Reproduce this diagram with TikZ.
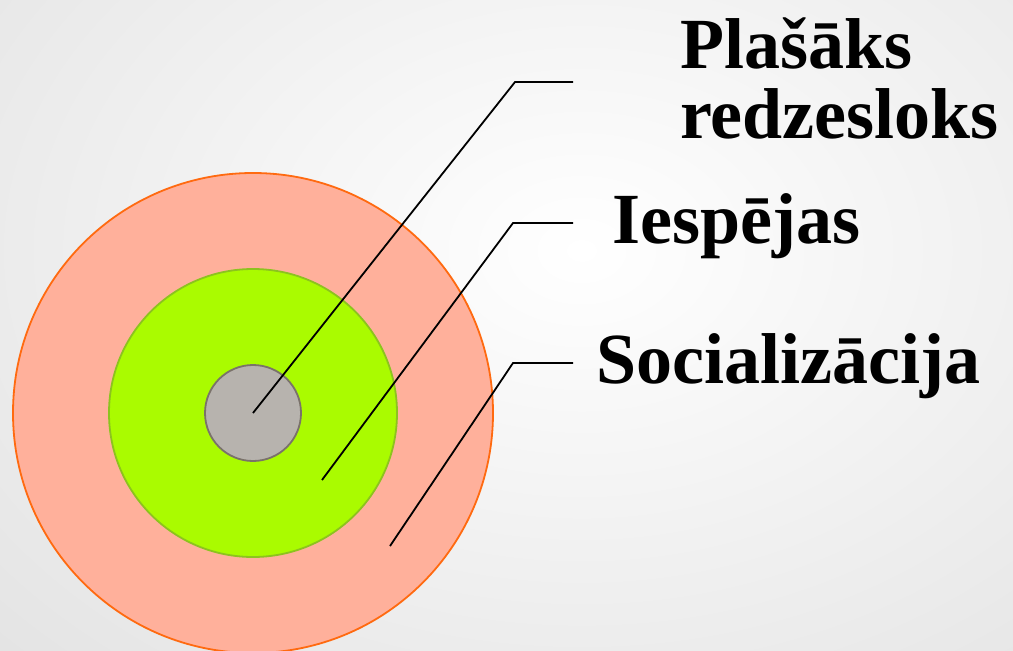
\documentclass[tikz,border=0pt]{standalone}
\usepackage{fontspec}
\setmainfont{Liberation Serif}
\definecolor{salmonfill}{HTML}{FFB09B}
\definecolor{orangeline}{HTML}{FF6A10}
\definecolor{limefill}{HTML}{AAFB00}
\definecolor{limeline}{HTML}{8CC31E}
\definecolor{corefill}{HTML}{B7B3AE}
\definecolor{coreline}{HTML}{7A726A}
\tikzset{
  ring/.style={line width=1.8pt},
  pointer/.style={black, line width=1.8pt},
  label/.style={font=\fontsize{72}{70}\selectfont\bfseries, anchor=base west, inner sep=0pt, align=left}
}
\begin{document}
\begin{tikzpicture}[x=1pt, y=-1pt]
    \useasboundingbox (0,0) rectangle (1013,651);

    % background
    \begin{scope}
        \clip (0,0) rectangle (1013,651);
        \shade[inner color=white, outer color=gray!22] (-250,-350) rectangle (1413,851);

        % the three circles
        \draw[ring, fill=salmonfill, draw=orangeline] (253,413) circle (240);
        \draw[ring, fill=limefill, draw=limeline] (253,413) circle (144);
        \draw[ring, fill=corefill, draw=coreline] (253,413) circle (48);
    \end{scope}

    % labels (base anchor sits on the last line)
    \node[label] (plasaks) at (680,138) {Plašāks\\redzesloks};
    \node[label] (iespejas) at (612,243) {Iespējas};
    \node[label] (social) at (596,383) {Socializācija};

    % pointers
    \coordinate (core) at (253,413);
    \coordinate (coreknee) at (515,82);
    \coordinate (coreend) at (573,82);
    \coordinate (mid) at (322,480);
    \coordinate (midknee) at (513,223);
    \coordinate (midend) at (573,223);
    \coordinate (outer) at (390,546);
    \coordinate (outerknee) at (513,363);
    \coordinate (outerend) at (573,363);

    \draw[pointer] (core) -- (coreknee) -- (coreend);
    \draw[pointer] (mid) -- (midknee) -- (midend);
    \draw[pointer] (outer) -- (outerknee) -- (outerend);

\end{tikzpicture}
\end{document}
